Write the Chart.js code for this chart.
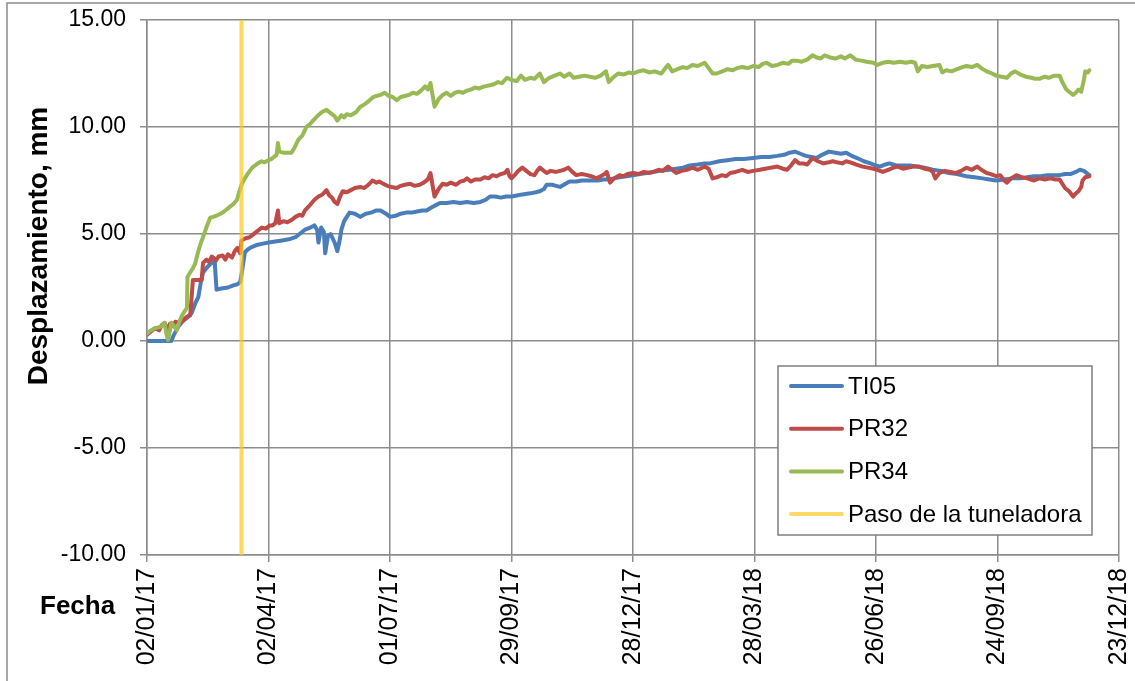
<!DOCTYPE html>
<html>
<head>
<meta charset="utf-8">
<script src="https://cdn.jsdelivr.net/npm/chart.js@4"></script>
<style>
  body { margin: 0; background: #fff; }
  #wrap { width: 1135px; height: 681px; }
</style>
</head>
<body>
<div id="wrap"><canvas id="myChart" width="1135" height="681"></canvas></div>
<script>
// dias desde 02/01/17
const ti05Dias = [0,5,10,15,18,20,23,26,30,33, 36,38,40,41.5,44,47,50,51.5,55,60,
  64,67,69,70.5,72.5,75,78,82,86,90, 95,100,105,110,113,117,121,124,126,127,
  129,131,132,134,136,139,141,143,144,146, 148,150,154,158,162,166,170,173,177,180,
  184,188,192,196,200,204,207,211,214,217, 222,227,232,237,242,247,251,254,258,262,
  266,270,274,278,284,288,291,294,296,300, 303,306,310,313,318,322,326,330,334,338,
  342,346,350,355,360,365,370,375,380,387, 392,397,402,408,413,417,424,430,436,442,
  449,455,461,467,472,476,480,484,488,492, 496,500,505,510,514,518,522,526,531,536,
  540,543,547,550,555,560,565,570,576,582, 588,594,600,607,613,619,624,629,635,641,
  647,652,657,662,667,672,676,680,684,688, 691,694,697,698]
const ti05Vals = [0,0,0,0,0,0.3,0.65,0.9,1.1,1.3, 1.8,2.05,2.8,3.2,3.4,3.6,3.85,2.4,2.45,2.5,
  2.6,2.65,2.75,3.3,4.15,4.3,4.4,4.5,4.55,4.6, 4.65,4.7,4.75,4.85,5.0,5.2,5.3,5.4,5.2,4.6,
  5.3,5.1,4.1,4.9,5.0,4.6,4.2,4.8,5.2,5.6, 5.8,6.0,5.95,5.8,5.95,6.0,6.1,6.1,5.95,5.8,
  5.85,5.95,6.0,6.0,6.05,6.1,6.1,6.25,6.35,6.45, 6.45,6.5,6.45,6.5,6.45,6.5,6.6,6.75,6.75,6.7,
  6.75,6.75,6.8,6.85,6.9,6.95,7.0,7.1,7.3,7.3, 7.25,7.2,7.35,7.45,7.45,7.5,7.5,7.5,7.5,7.55,
  7.55,7.6,7.65,7.7,7.75,7.8,7.85,7.9,7.95,8.0, 8.05,8.1,8.2,8.25,8.3,8.3,8.4,8.45,8.5,8.5,
  8.55,8.6,8.6,8.65,8.7,8.8,8.85,8.75,8.65,8.6, 8.55,8.7,8.85,8.8,8.75,8.8,8.65,8.55,8.4,8.3,
  8.2,8.15,8.25,8.3,8.2,8.2,8.2,8.15,8.1,8.0, 7.95,7.85,7.8,7.7,7.65,7.6,7.55,7.5,7.55,7.6,
  7.6,7.65,7.7,7.7,7.75,7.75,7.75,7.8,7.8,7.9, 8.0,7.95,7.8,7.75]

const pr32Dias = [0,3,6,9,11,13,15,17,19,21, 24,26,28,30,32,33,34,37,40.5,41.5,
  44,46,48,50,51,53,56,58,60,63, 65,67,69,70,73,76,78,81,83,85,
  88,91,93,95,97,98,101,104,107,110, 113,115,117,120,122,124,127,130,133,135,
  137,139,141,143,145,148,151,154,158,161, 164,167,170,172,175,178,181,185,188,191,
  195,198,202,205,208,210,212,213,216,219, 222,225,229,232,235,237,240,243,247,250,
  253,256,259,262,265,267,268.5,270,273,275, 278,281,284,287,289,291,294,296,299,303,
  306,309,312,315,318,322,326,329,333,336, 339,340.5,343,346,350,353,356,360,364,368,
  372,375,379,382,386,389,392,396,400,404, 408,413,416,419,422,426,429,432,436,441,
  445,449,454,458,462,467,471,474,477,480, 483,486,489,493,497,501,505,508,511,515,
  518,521,525,530,534,538,541,545,549,553, 556,560,564,568,572,576,580,582,584,587,
  591,595,599,603,607,611,615,618,622,625, 629,632,635,637,640,644,648,652,657,661,
  665,669,673,676,678,680,683,686,688,690, 692,693,695,698]
const pr32Vals = [0.3,0.45,0.6,0.5,0.75,0.85,0.5,0.8,0.7,0.9, 0.85,0.9,1.05,1.15,1.2,2.0,2.85,2.85,2.85,3.65,
  3.8,3.7,3.95,3.85,3.75,3.95,4.0,3.8,4.05,3.9, 4.2,4.35,4.1,4.7,4.8,4.85,4.95,5.1,5.2,5.3,
  5.25,5.4,5.4,5.5,6.1,5.5,5.6,5.55,5.65,5.8, 5.9,5.85,6.1,6.3,6.45,6.6,6.75,6.85,7.05,6.8,
  6.7,6.5,6.4,6.75,7.0,6.95,7.05,7.15,7.2,7.15, 7.3,7.5,7.4,7.45,7.35,7.25,7.2,7.15,7.25,7.3,
  7.35,7.25,7.3,7.4,7.55,7.85,7.1,6.75,7.1,7.35, 7.3,7.4,7.3,7.45,7.5,7.6,7.45,7.55,7.55,7.65,
  7.6,7.75,7.7,7.8,7.85,8.0,7.7,7.6,7.8,7.95, 8.1,7.95,7.8,7.75,7.95,8.1,7.95,7.85,7.95,7.9,
  7.95,8.0,8.1,7.9,7.75,7.8,7.75,7.7,7.6,7.7, 7.8,7.9,7.4,7.6,7.75,7.7,7.8,7.85,7.8,7.9,
  7.85,7.9,8.0,7.95,8.15,8.0,7.85,7.95,8.0,8.1, 8.0,8.15,8.05,7.6,7.65,7.75,7.7,7.85,7.9,8.0,
  7.9,7.95,8.0,8.05,8.1,8.15,8.05,8.0,8.2,8.45, 8.3,8.3,8.25,8.55,8.4,8.3,8.35,8.4,8.35,8.3,
  8.4,8.35,8.25,8.15,8.1,8.05,8.0,7.9,8.0,8.1, 8.15,8.05,8.1,8.15,8.15,8.05,8.0,7.9,7.6,7.85,
  7.95,7.9,7.85,7.95,8.1,8.0,8.15,8.0,7.85,7.8, 7.7,7.75,7.5,7.4,7.6,7.75,7.65,7.6,7.5,7.6,
  7.55,7.6,7.55,7.55,7.35,7.15,7.0,6.75,6.9,7.0, 7.2,7.5,7.65,7.7]

const pr34Dias = [0,3,6,9,11,13,14.5,15.6,17,18, 20,22,24,26,28,29.6,30,32,34,35.6,
  38,40,41.5,44,46.7,49,51,53,56,58, 60,62,64,66.7,68,70,72,75,78,80,
  82,85,87,90,92,94,96,97,98,101, 104,107,109,112,115,117,118,121,123,126,
  129.6,133,136,139,141,144,146,148,151,155, 158,161,164,167.6,170,173,176,179,182,185,
  188,191,194,197,200,203,206,208,210,211.5, 213,216,219,222,225,228,231,234,237,240,
  243,246,250,254,257,260,263,266.6,270,274, 277,280,284,287,291,294,298,302,306,309,
  313,316,320,324,328,332,336,340,342,345, 349,353,357,360,364,368,372,376,381,384,
  386,389,393,397,400,404,408,413,416,419, 422,426,430,434,437,441,445,449,453,456,
  459,463,467,471,475,478,481,485,489,493, 496,499,502,506,510,514,517,521,525,529,
  533,538,541,545,549,553,558,562,566,569, 571,574,578,582,587,589,592,596,600,604,
  607,611,615,618,622,626,629,633,637,640, 643,647,651,655,658,661,665,668,672,676,
  678,681,684,686,688,690,692,694,695,697, 698]
const pr34Vals = [0.35,0.5,0.6,0.65,0.7,0.85,0.3,0.05,0.5,0.85, 0.7,0.5,0.9,1.2,1.4,1.55,3.0,3.2,3.4,3.6,
  4.2,4.6,4.85,5.3,5.75,5.8,5.85,5.9,6.0,6.1, 6.2,6.3,6.4,6.6,6.9,7.3,7.55,7.85,8.1,8.2,
  8.3,8.4,8.35,8.45,8.5,8.6,8.7,9.25,8.85,8.8, 8.8,8.8,9.0,9.4,9.6,9.85,10.0,10.15,10.3,10.5,
  10.7,10.8,10.65,10.5,10.3,10.55,10.45,10.6,10.55,10.7, 10.95,11.05,11.2,11.4,11.45,11.5,11.6,11.45,11.4,11.25,
  11.4,11.45,11.5,11.6,11.55,11.7,11.9,11.75,12.05,11.5, 10.95,11.3,11.5,11.6,11.45,11.6,11.65,11.6,11.7,11.75,
  11.85,11.8,11.9,11.95,12.0,12.1,12.05,12.3,12.2,12.15, 12.4,12.2,12.3,12.25,12.5,12.1,12.3,12.4,12.5,12.35,
  12.5,12.3,12.35,12.4,12.35,12.3,12.4,12.6,12.1,12.3, 12.5,12.45,12.55,12.5,12.6,12.65,12.55,12.6,12.5,12.75,
  12.9,12.6,12.7,12.8,12.75,12.9,12.85,13.0,12.75,12.5, 12.5,12.6,12.7,12.65,12.75,12.8,12.75,12.85,12.8,12.95,
  13.0,12.85,12.9,13.0,12.95,13.1,13.1,13.05,13.15,13.35, 13.25,13.2,13.35,13.25,13.2,13.3,13.2,13.35,13.15,13.1,
  13.05,13.0,12.9,13.0,13.05,13.0,13.05,13.0,13.05,13.0, 12.6,12.85,12.8,12.85,12.9,12.55,12.65,12.6,12.7,12.8,
  12.85,12.8,12.9,12.75,12.6,12.5,12.4,12.35,12.3,12.5, 12.6,12.45,12.35,12.3,12.25,12.25,12.35,12.3,12.4,12.4,
  12.1,11.75,11.6,11.5,11.6,11.75,11.65,12.2,12.6,12.55, 12.65]

const pasoDia = 70
const pasoRango = [-10, 15]

const yTicks = [-10, -5, 0, 5, 10, 15]
const fechaBase = Date.UTC(2017, 0, 2)

const toPoints = (dias, vals) => dias.map((d, i) => ({ x: d, y: vals[i] }))

const fmtFecha = (v) => {
    let d = new Date(fechaBase + v * 86400000)
    let dd = String(d.getUTCDate()).padStart(2, '0')
    let mm = String(d.getUTCMonth() + 1).padStart(2, '0')
    let yy = String(d.getUTCFullYear()).slice(2)
    return `${dd}/${mm}/${yy}`
}

const FONT = '"Liberation Sans", Arial, sans-serif'
const gridColor = '#8c8c8c'

// titulos, leyenda y marco
const extras = {
    id: 'extras',
    afterDraw(chart) {
        const ctx = chart.ctx
        ctx.save()
        ctx.strokeStyle = gridColor
        ctx.lineWidth = 1.5
        ctx.strokeRect(7, 3, 1150, 700)

        ctx.fillStyle = '#000'
        ctx.font = `bold 28px ${FONT}`
        ctx.textAlign = 'center'
        ctx.textBaseline = 'middle'
        ctx.save()
        ctx.translate(39, 246)
        ctx.rotate(-Math.PI / 2)
        ctx.fillText('Desplazamiento, mm', 0, 0)
        ctx.restore()
        ctx.font = `bold 26px ${FONT}`
        ctx.textAlign = 'left'
        ctx.fillText('Fecha', 40, 607)

        // leyenda
        ctx.fillStyle = '#fff'
        ctx.fillRect(778, 366, 314, 169)
        ctx.strokeStyle = '#7f7f7f'
        ctx.lineWidth = 1.5
        ctx.strokeRect(778, 366, 314, 169)
        ctx.font = `24px ${FONT}`
        ctx.lineCap = 'round'
        chart.data.datasets.forEach((ds, i) => {
            let y = 386 + i * 42.7
            ctx.strokeStyle = ds.legendColor || ds.borderColor
            ctx.lineWidth = 4
            ctx.beginPath()
            ctx.moveTo(791, y)
            ctx.lineTo(842, y)
            ctx.stroke()
            ctx.fillStyle = '#000'
            ctx.fillText(ds.label, 848, y + 1)
        })
        ctx.restore()
    }
}

Chart.defaults.font.family = FONT
Chart.defaults.color = '#000'

const lineStyle = (label, color, order, pts) => ({
    label: label,
    data: pts,
    borderColor: color,
    borderWidth: 4,
    pointRadius: 0,
    tension: 0,
    borderJoinStyle: 'round',
    borderCapStyle: 'round',
    order: order
})

const sinPadding = (s) => {
    s.paddingLeft = 0
    s.paddingRight = 0
    s.paddingTop = 0
    s.paddingBottom = 0
}

new Chart(document.getElementById('myChart').getContext('2d'), {
    type: 'line',
    data: {
        datasets: [
            lineStyle('TI05', '#4a7ebb', 4, toPoints(ti05Dias, ti05Vals)),
            lineStyle('PR32', '#be4b48', 3, toPoints(pr32Dias, pr32Vals)),
            lineStyle('PR34', '#98b954', 2, toPoints(pr34Dias, pr34Vals)),
            Object.assign(lineStyle('Paso de la tuneladora', 'rgba(255,200,30,0.7)', 1,
                pasoRango.map(v => ({ x: pasoDia, y: v }))), { legendColor: '#ffd966' })
        ]
    },
    options: {
        responsive: false,
        animation: false,
        layout: { padding: { top: 20, right: 16, left: 0, bottom: 0 } },
        plugins: { legend: { display: false }, tooltip: { enabled: false } },
        scales: {
            x: {
                type: 'linear',
                min: 0,
                max: 720,
                afterFit: (s) => { s.height = 126; sinPadding(s) },
                ticks: {
                    stepSize: 90,
                    minRotation: 90,
                    maxRotation: 90,
                    padding: 6,
                    font: { size: 25 },
                    callback: (v) => fmtFecha(v)
                },
                grid: { color: gridColor, lineWidth: 1.5, tickLength: 7, tickColor: gridColor },
                border: { color: gridColor, width: 1.5 }
            },
            y: {
                min: -10,
                max: 15,
                afterFit: (s) => { s.width = 147; sinPadding(s) },
                afterBuildTicks: (s) => { s.ticks = yTicks.map(v => ({ value: v })) },
                ticks: {
                    padding: 14,
                    font: { size: 23 },
                    callback: (v) => v.toFixed(2)
                },
                grid: { color: gridColor, lineWidth: 1.5, tickLength: 7, tickColor: gridColor },
                border: { color: gridColor, width: 1.5 }
            }
        }
    },
    plugins: [extras]
})
</script>
</body>
</html>
